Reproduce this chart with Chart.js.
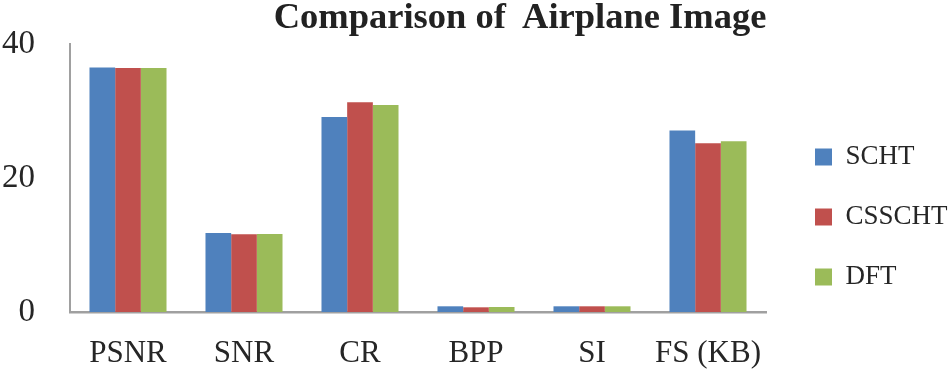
<!DOCTYPE html>
<html>
<head>
    <title>Comparison of Airplane Image</title>
    <script src="https://cdn.jsdelivr.net/npm/chart.js"></script>
    <style>
        body {
            margin: 0;
            background: white;
        }
        #wrap {
            position: relative;
            width: 950px;
            height: 370px;
        }
        #title {
            position: absolute;
            left: 0;
            top: -2px;
            width: 1040px;
            text-align: center;
            font-family: "Liberation Serif", serif;
            font-weight: bold;
            font-size: 36.5px;
            line-height: 36px;
            color: #222;
            white-space: pre;
        }
    </style>
</head>
<body>
    <div id="wrap">
        <canvas id="chart" width="950" height="370"></canvas>
        <div id="title">Comparison of  Airplane Image</div>
    </div>

    <script>
        const categories = ["PSNR", "SNR", "CR", "BPP", "SI", "FS (KB)"];
        const schtValues = [36.5, 11.8, 29.1, 0.85, 0.85, 27.1];
        const cssschtValues = [36.4, 11.6, 31.3, 0.7, 0.85, 25.2];
        const dftValues = [36.4, 11.65, 30.9, 0.75, 0.85, 25.5];
        const yTicks = [0, 20, 40];

        const textColor = "#262626";
        const axisColor = "#a0a0a0";

        const ctx = document.getElementById("chart").getContext("2d");
        new Chart(ctx, {
            type: "bar",
            data: {
                labels: categories,
                datasets: [
                    { label: "SCHT", data: schtValues, backgroundColor: "#4f81bd" },
                    { label: "CSSCHT", data: cssschtValues, backgroundColor: "#c0504d" },
                    { label: "DFT", data: dftValues, backgroundColor: "#9bbb59" }
                ]
            },
            options: {
                responsive: false,
                animation: false,
                layout: { padding: { top: 44, left: 2, right: 0, bottom: 0 } },
                datasets: {
                    bar: { categoryPercentage: 0.664, barPercentage: 1.0, borderWidth: 0 }
                },
                plugins: {
                    title: { display: false },
                    tooltip: { enabled: false },
                    legend: {
                        position: "right",
                        maxWidth: 168,
                        title: { display: true, text: "", padding: 0, font: { size: 20, lineHeight: 1 } },
                        labels: {
                            boxWidth: 17,
                            boxHeight: 17,
                            padding: 33,
                            color: textColor,
                            font: { family: "'Liberation Serif', serif", size: 27, lineHeight: 0.9 }
                        }
                    }
                },
                scales: {
                    x: {
                        afterFit: (scale) => { scale.height = 58; },
                        grid: { display: false, drawTicks: false },
                        border: { display: true, color: axisColor, width: 2.5 },
                        ticks: {
                            color: textColor,
                            padding: 23,
                            maxRotation: 0,
                            font: { family: "'Liberation Serif', serif", size: 31, lineHeight: 1.2 }
                        }
                    },
                    y: {
                        min: yTicks[0],
                        max: yTicks[yTicks.length - 1],
                        afterBuildTicks: (axis) => { axis.ticks = yTicks.map(v => ({ value: v })); },
                        afterFit: (scale) => {
                            scale.width = 68;
                            scale.paddingTop = 0;
                            scale.paddingBottom = 0;
                        },
                        grid: { display: false, drawTicks: false },
                        border: { display: true, color: axisColor, width: 2 },
                        ticks: {
                            color: textColor,
                            padding: 35,
                            font: { family: "'Liberation Serif', serif", size: 33 }
                        }
                    },
                    // empty spacer between the plot and the legend
                    gap: {
                        position: "right",
                        min: 0,
                        max: 1,
                        afterFit: (scale) => { scale.width = 16; },
                        grid: { display: false, drawTicks: false },
                        border: { display: false },
                        ticks: { display: false }
                    }
                }
            }
        });
    </script>
</body>
</html>
